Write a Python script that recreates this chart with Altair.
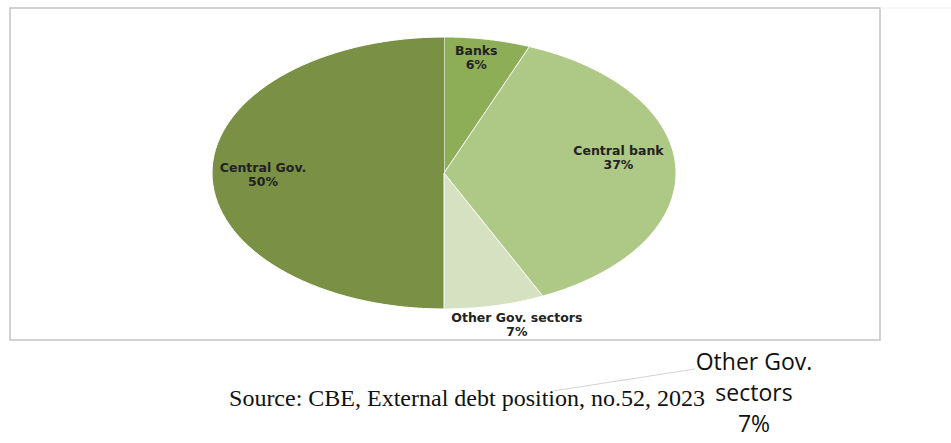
import altair as alt
import pandas as pd

# ---- data ----
categories = ["Banks", "Central bank", "Other Gov. sectors", "Central Gov."]
shares = [6, 37, 7, 50]
slice_colors = ["#8dae57", "#aec886", "#d5e1c0", "#7a9044"]
# label placement (styling): radial factor and angular nudge (degrees)
label_radius = [0.86, 0.76, 1.16, 0.78]
label_nudge = [-1.5, -6.6, -3.1, -1.0]
source_note = "Source: CBE, External debt position, no.52, 2023"
callout_lines = ["Other Gov.", "sectors", "7%"]

df = pd.DataFrame({
    "category": categories,
    "share": shares,
    "idx": list(range(len(categories))),
    "lr": label_radius,
    "nudge": label_nudge,
})

xs = alt.Scale(domain=[-1, 1], range=[212, 676])
ys = alt.Scale(domain=[-1, 1], range=[309, 37])
color = alt.Scale(domain=categories, range=slice_colors)

base = (
    alt.Chart(df)
    .transform_window(cum="sum(share)", sort=[alt.SortField("idx")], frame=[None, 0])
    .transform_joinaggregate(total="sum(share)")
    .transform_calculate(
        a0="2*PI*(datum.cum-datum.share)/datum.total",
        a1="2*PI*datum.cum/datum.total",
    )
)

slices = (
    base.transform_calculate(steps="sequence(-1, 73)")
    .transform_flatten(["steps"], as_=["i"])
    .transform_calculate(
        ang="datum.a0 + (datum.a1-datum.a0)*max(datum.i,0)/72",
        px="datum.i < 0 ? 0 : sin(datum.ang)",
        py="datum.i < 0 ? 0 : cos(datum.ang)",
    )
    .mark_line(filled=True, stroke="white", strokeWidth=1, strokeJoin="round", interpolate="linear")
    .encode(
        x=alt.X("px:Q", scale=xs, axis=None),
        y=alt.Y("py:Q", scale=ys, axis=None),
        order=alt.Order("i:Q"),
        detail="category:N",
        fill=alt.Fill("category:N", scale=color, legend=None),
    )
)

labels = (
    base.transform_calculate(
        mid="(datum.a0+datum.a1)/2 + datum.nudge*PI/180",
        lx="datum.lr*sin(datum.mid)",
        ly="datum.lr*cos(datum.mid)",
        txt="[datum.category, format(datum.share/datum.total, '.0%')]",
    )
    .mark_text(font="DejaVu Sans", fontWeight="bold", fontSize=12.5, color="#222222",
               lineHeight=14, baseline="middle", align="center", dy=-7)
    .encode(
        x=alt.X("lx:Q", scale=xs, axis=None),
        y=alt.Y("ly:Q", scale=ys, axis=None),
        text="txt:N",
    )
)

one = pd.DataFrame({"a": [0]})

frame = alt.Chart(one).mark_rect(filled=False, stroke="#c4c4c4", strokeWidth=1.5).encode(
    x=alt.value(10), x2=alt.value(880), y=alt.value(8), y2=alt.value(340)
)

top_line = alt.Chart(one).mark_rule(stroke="#f0f0f0", strokeWidth=1).encode(
    x=alt.value(880), x2=alt.value(951), y=alt.value(8), y2=alt.value(8)
)

leader = alt.Chart(one).mark_rule(stroke="#d4d4d4", strokeWidth=1).encode(
    x=alt.value(553), y=alt.value(391), x2=alt.value(695), y2=alt.value(369)
)

source = alt.Chart(one).mark_text(
    font="Liberation Serif", fontSize=24, color="#111111", align="center", baseline="alphabetic"
).encode(x=alt.value(467), y=alt.value(406), text=alt.value(source_note))

callout = alt.Chart(one).mark_text(
    text=callout_lines, font="Open Sans", fontSize=23, color="#111111",
    align="center", baseline="alphabetic", lineHeight=31
).encode(x=alt.value(754), y=alt.value(370))

chart = (
    alt.layer(frame, top_line, slices, labels, leader, source, callout)
    .properties(width=951, height=443, autosize=alt.AutoSizeParams(type="none"), padding=0)
    .configure_view(stroke=None)
)

chart.save("out.html", embed_options={"renderer": "svg", "actions": False})
